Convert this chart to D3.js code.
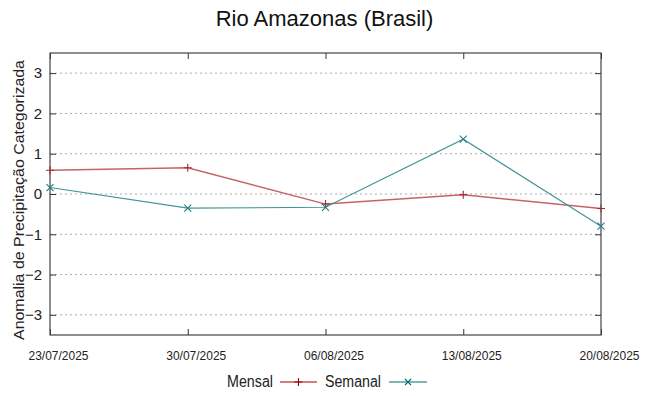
<!DOCTYPE html>
<html><head><meta charset="utf-8">
<script src="https://cdn.jsdelivr.net/npm/d3@7"></script>
<style>body{margin:0;background:#fff}</style>
</head><body>
<svg id="c" width="649" height="396"></svg>
<script>
const dates = ["23/07/2025","30/07/2025","06/08/2025","13/08/2025","20/08/2025"];
const mensal = [0.59, 0.65, -0.25, -0.02, -0.36];
const semanal = [0.16, -0.35, -0.33, 1.36, -0.80];
const yTicks = [-3,-2,-1,0,1,2,3];
const seriesNames = ["Mensal","Semanal"];

const svg = d3.select("#c");
const L=50, R=601, T=53, B=335;
const x = d3.scalePoint().domain(dates).range([L,R]);
const y = d3.scaleLinear().domain([-3.5,3.5]).range([B,T]);
const sans = "'Liberation Sans',Arial,sans-serif";

// grid
svg.append("g").selectAll("line").data(yTicks).join("line")
  .attr("x1",L).attr("x2",R).attr("y1",d=>y(d)).attr("y2",d=>y(d))
  .attr("stroke","#aaa").attr("stroke-width",1).attr("stroke-dasharray","2,3");

// axes
const yAxisL = d3.axisLeft(y).tickValues(yTicks).tickSize(-6).tickPadding(8).tickFormat(d3.format("d"));
const yAxisR = d3.axisRight(y).tickValues(yTicks).tickSize(-6).tickFormat("");
const xAxisB = d3.axisBottom(x).tickSize(-6).tickPadding(16);
const xAxisT = d3.axisTop(x).tickSize(-6).tickFormat("");
function style(g){g.select(".domain").remove();g.selectAll(".tick line").attr("stroke","#333");}
svg.append("g").attr("transform",`translate(${L},0)`).call(yAxisL).call(style)
  .selectAll("text").attr("font-family",sans).attr("font-size",15).attr("fill","#222");
svg.append("g").attr("transform",`translate(${R},0)`).call(yAxisR).call(style);
svg.append("g").attr("transform",`translate(0,${B})`).call(xAxisB).call(style)
  .selectAll("text").attr("font-family",sans).attr("font-size",13).attr("fill","#222").attr("dx",8)
  .attr("textLength",60).attr("lengthAdjust","spacingAndGlyphs");
svg.append("g").attr("transform",`translate(0,${T})`).call(xAxisT).call(style);
svg.append("rect").attr("x",L).attr("y",T).attr("width",R-L).attr("height",B-T)
  .attr("fill","none").attr("stroke","#444").attr("stroke-width",1.2);

// lines
const line = d3.line().x((d,i)=>x(dates[i])).y(d=>y(d));
const plotCols = ["#c46464","#3f9494"];
svg.append("path").datum(mensal).attr("d",line).attr("fill","none").attr("stroke",plotCols[0]).attr("stroke-width",1.4);
svg.append("path").datum(semanal).attr("d",line).attr("fill","none").attr("stroke",plotCols[1]).attr("stroke-width",1.1);
// markers
svg.append("g").selectAll("path").data(mensal).join("path")
  .attr("d",(d,i)=>{const cx=x(dates[i]),cy=y(d);return `M${cx-4},${cy}H${cx+4}M${cx},${cy-4}V${cy+4}`;})
  .attr("stroke","#a52a2a").attr("stroke-width",1.1);
svg.append("g").selectAll("path").data(semanal).join("path")
  .attr("d",(d,i)=>{const cx=x(dates[i]),cy=y(d);return `M${cx-3.5},${cy-3.5}L${cx+3.5},${cy+3.5}M${cx-3.5},${cy+3.5}L${cx+3.5},${cy-3.5}`;})
  .attr("stroke","#1f7f7f").attr("stroke-width",1.1);

// title
svg.append("text").attr("x",324.5).attr("y",26).attr("text-anchor","middle")
  .attr("font-family",sans).attr("font-size",22).attr("fill","#111")
  .text("Rio Amazonas (Brasil)");
// y label
svg.append("text").attr("transform","translate(24,200) rotate(-90)").attr("text-anchor","middle")
  .attr("font-family",sans).attr("font-size",15).attr("fill","#222")
  .attr("textLength",280).attr("lengthAdjust","spacingAndGlyphs")
  .text("Anomalia de Precipitação Categorizada");

// legend
const lg = svg.append("g");
const legItems = [{name:seriesNames[0],tx:227,w:46,x1:280,x2:317,col:"#a00000",m:"plus"},
                  {name:seriesNames[1],tx:325,w:56,x1:389,x2:427,col:"#007070",m:"x"}];
legItems.forEach(it=>{
  lg.append("text").attr("x",it.tx).attr("y",387)
    .attr("font-family",sans).attr("font-size",16).attr("fill","#222")
    .attr("textLength",it.w).attr("lengthAdjust","spacingAndGlyphs").text(it.name);
  lg.append("line").attr("x1",it.x1).attr("x2",it.x2).attr("y1",382).attr("y2",382).attr("stroke",it.col).attr("stroke-width",1.2);
  const cx=(it.x1+it.x2)/2, cy=382;
  lg.append("path").attr("d", it.m==="plus"?`M${cx-4},${cy}H${cx+4}M${cx},${cy-4}V${cy+4}`:`M${cx-3},${cy-3}L${cx+3},${cy+3}M${cx-3},${cy+3}L${cx+3},${cy-3}`)
    .attr("stroke",it.col).attr("stroke-width",1.1);
});
</script>
</body></html>
